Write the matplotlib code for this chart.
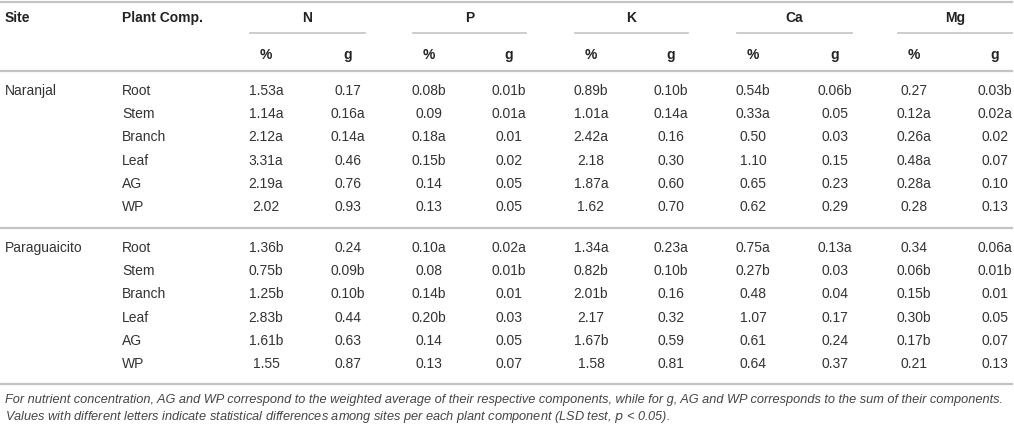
import matplotlib
matplotlib.use("Agg")
from matplotlib import pyplot as plt

plt.rcParams['font.family'] = ['Liberation Sans', 'DejaVu Sans']

# ---- table data ----
sites = ['Naranjal', 'Paraguaicito']
components = ['Root', 'Stem', 'Branch', 'Leaf', 'AG', 'WP']
nutrients = ['N', 'P', 'K', 'Ca', 'Mg']
sub_headers = ['%', 'g']

naranjal_N_pct = ['1.53a', '1.14a', '2.12a', '3.31a', '2.19a', '2.02']
naranjal_N_g = ['0.17', '0.16a', '0.14a', '0.46', '0.76', '0.93']
naranjal_P_pct = ['0.08b', '0.09', '0.18a', '0.15b', '0.14', '0.13']
naranjal_P_g = ['0.01b', '0.01a', '0.01', '0.02', '0.05', '0.05']
naranjal_K_pct = ['0.89b', '1.01a', '2.42a', '2.18', '1.87a', '1.62']
naranjal_K_g = ['0.10b', '0.14a', '0.16', '0.30', '0.60', '0.70']
naranjal_Ca_pct = ['0.54b', '0.33a', '0.50', '1.10', '0.65', '0.62']
naranjal_Ca_g = ['0.06b', '0.05', '0.03', '0.15', '0.23', '0.29']
naranjal_Mg_pct = ['0.27', '0.12a', '0.26a', '0.48a', '0.28a', '0.28']
naranjal_Mg_g = ['0.03b', '0.02a', '0.02', '0.07', '0.10', '0.13']

paragua_N_pct = ['1.36b', '0.75b', '1.25b', '2.83b', '1.61b', '1.55']
paragua_N_g = ['0.24', '0.09b', '0.10b', '0.44', '0.63', '0.87']
paragua_P_pct = ['0.10a', '0.08', '0.14b', '0.20b', '0.14', '0.13']
paragua_P_g = ['0.02a', '0.01b', '0.01', '0.03', '0.05', '0.07']
paragua_K_pct = ['1.34a', '0.82b', '2.01b', '2.17', '1.67b', '1.58']
paragua_K_g = ['0.23a', '0.10b', '0.16', '0.32', '0.59', '0.81']
paragua_Ca_pct = ['0.75a', '0.27b', '0.48', '1.07', '0.61', '0.64']
paragua_Ca_g = ['0.13a', '0.03', '0.04', '0.17', '0.24', '0.37']
paragua_Mg_pct = ['0.34', '0.06b', '0.15b', '0.30b', '0.17b', '0.21']
paragua_Mg_g = ['0.06a', '0.01b', '0.01', '0.05', '0.07', '0.13']

footnote = [
    'For nutrient concentration, AG and WP correspond to the weighted average of their respective '
    'components, while for g, AG and WP corresponds to the sum of their components.',
    'Values with different letters indicate statistical differences among sites per each plant '
    'component (LSD test, $p$ < 0.05).',
]

site_columns = {
    'Naranjal': [naranjal_N_pct, naranjal_N_g, naranjal_P_pct, naranjal_P_g,
                 naranjal_K_pct, naranjal_K_g, naranjal_Ca_pct, naranjal_Ca_g,
                 naranjal_Mg_pct, naranjal_Mg_g],
    'Paraguaicito': [paragua_N_pct, paragua_N_g, paragua_P_pct, paragua_P_g,
                     paragua_K_pct, paragua_K_g, paragua_Ca_pct, paragua_Ca_g,
                     paragua_Mg_pct, paragua_Mg_g],
}

# ---- layout (pixel coordinates) ----
W, H = 1014, 425
col_x = [266, 348, 429, 509, 591, 671, 753, 835, 914, 995]
site_x, comp_x = 5, 122
header_y, under_y, sub_y, head_rule_y = 18, 33, 55, 71
first_row_y = [91, 248]
row_step = 23.2
site_rule_y = [228, 384]
foot_y = [400, 417]
rule_end = 1012

line_color = '#c4c4c4'
text_color = '#333333'
head_color = '#222222'

fig = plt.figure(figsize=(W / 100, H / 100), dpi=100)
ax = fig.add_axes([0, 0, 1, 1])
ax.set_xlim(0, W)
ax.set_ylim(H, 0)
ax.axis('off')

# header
ax.plot([0, rule_end], [2, 2], color=line_color, lw=1.6)
ax.text(site_x, header_y, 'Site', fontsize=10, fontweight='bold', color=head_color, va='center')
ax.text(comp_x, header_y, 'Plant Comp.', fontsize=10, fontweight='bold', color=head_color, va='center')
for i, nut in enumerate(nutrients):
    x0, x1 = col_x[2 * i], col_x[2 * i + 1]
    left, right = x0 - 16, min(x1 + 17, rule_end)
    ax.text((left + right) / 2, header_y, nut, fontsize=10, fontweight='bold', color=head_color,
            ha='center', va='center')
    ax.plot([left, right], [under_y, under_y], color=line_color, lw=1.2)
    for j, sub in enumerate(sub_headers):
        ax.text(col_x[2 * i + j], sub_y, sub, fontsize=10, fontweight='bold', color=head_color,
                ha='center', va='center')
ax.plot([0, rule_end], [head_rule_y, head_rule_y], color=line_color, lw=1.6)

# body
for s, site in enumerate(sites):
    ax.text(site_x, first_row_y[s], site, fontsize=10, color=text_color, va='center')
    cols = site_columns[site]
    for r, comp in enumerate(components):
        y = first_row_y[s] + r * row_step
        ax.text(comp_x, y, comp, fontsize=10, color=text_color, va='center')
        for c, values in enumerate(cols):
            ax.text(col_x[c], y, values[r], fontsize=10, color=text_color, ha='center', va='center')
    ax.plot([0, rule_end], [site_rule_y[s], site_rule_y[s]], color=line_color, lw=1.6)

# footnote
for k, line in enumerate(footnote):
    ax.text(site_x, foot_y[k], line, fontsize=9.15, style='italic', color='#444444', va='center')

fig.savefig('out.png', dpi=100)
